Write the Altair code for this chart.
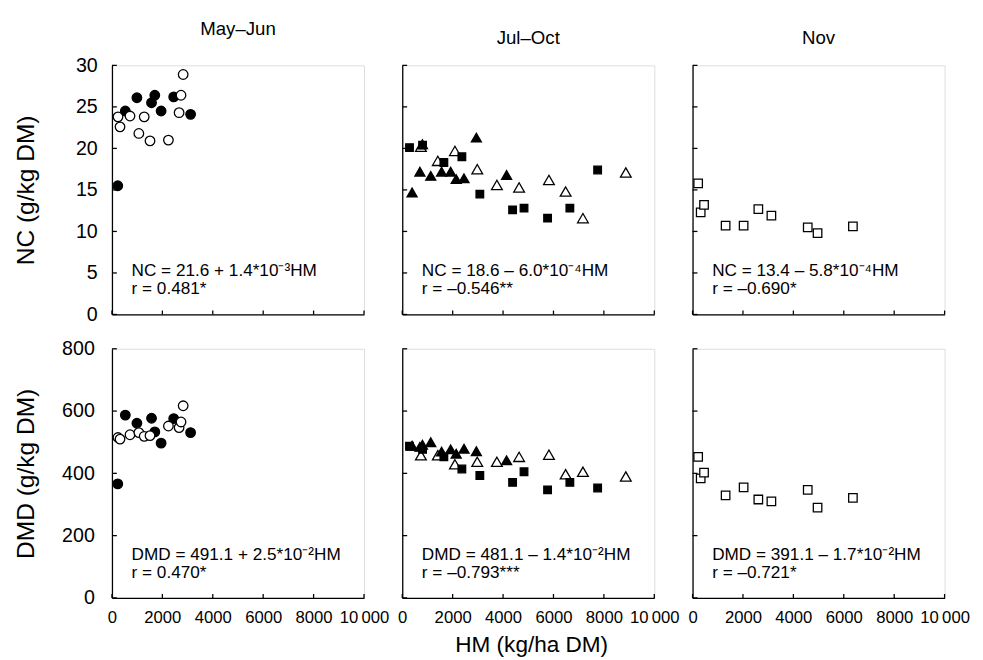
import altair as alt
import pandas as pd

FONT = "Liberation Sans"

# ---------------- data ----------------
# May–Jun : filled circles / open circles
mj_fill_hm = [230, 530, 990, 1570, 1700, 1950, 2450, 3120]
mj_fill_nc = [15.5, 24.5, 26.1, 25.5, 26.4, 24.5, 26.2, 24.1]
mj_fill_dmd = [366, 587, 561, 577, 533, 497, 576, 531]

mj_open_hm = [240, 320, 716, 1067, 1280, 1510, 2240, 2664, 2740, 2825]
mj_open_nc = [23.8, 22.6, 23.9, 21.8, 23.8, 20.9, 21.0, 24.3, 26.4, 28.9]
mj_open_dmd = [515, 510, 524, 531, 519, 521, 552, 547, 565, 617]

# Jul–Oct : filled squares / filled triangles / open triangles
jo_sq_hm = [287, 806, 1651, 2365, 3078, 4378, 4831, 5766, 6650, 7752]
jo_sq_nc = [20.1, 20.4, 18.3, 19.0, 14.5, 12.6, 12.8, 11.6, 12.8, 17.4]
jo_sq_dmd = [487, 477, 453, 414, 393, 371, 405, 347, 371, 353]

jo_tf_hm = [390, 700, 800, 1130, 1560, 1920, 2140, 2450, 2940, 4140]
jo_tf_nc = [14.7, 17.2, 20.5, 16.7, 17.2, 17.2, 16.3, 16.4, 21.3, 16.8]
jo_tf_dmd = [489, 485, 492, 500, 470, 477, 463, 479, 471, 442]

jo_to_hm = [740, 1410, 2090, 2976, 3755, 4636, 5820, 6482, 7168, 8870]
jo_to_nc = [20.2, 18.5, 19.7, 17.5, 15.6, 15.3, 16.2, 14.8, 11.6, 17.1]
jo_to_dmd = [458, 458, 429, 437, 437, 453, 460, 397, 405, 390]

# Nov : open squares
nov_hm = [222, 323, 456, 1312, 2026, 2610, 3128, 4570, 4960, 6362]
nov_nc = [15.8, 12.3, 13.2, 10.7, 10.7, 12.7, 11.9, 10.5, 9.8, 10.6]
nov_dmd = [453, 384, 402, 329, 355, 316, 310, 347, 290, 321]

periods = ["May–Jun", "Jul–Oct", "Nov"]
eq_nc = ["NC = 21.6 + 1.4*10⁻³HM", "NC = 18.6 – 6.0*10⁻⁴HM", "NC = 13.4 – 5.8*10⁻⁴HM"]
r_nc = ["r = 0.481*", "r = –0.546**", "r = –0.690*"]
eq_dmd = ["DMD = 491.1 + 2.5*10⁻²HM", "DMD = 481.1 – 1.4*10⁻²HM", "DMD = 391.1 – 1.7*10⁻²HM"]
r_dmd = ["r = 0.470*", "r = –0.793***", "r = –0.721*"]

x_ticks = [0, 2000, 4000, 6000, 8000, 10000]
nc_ticks = [0, 5, 10, 15, 20, 25, 30]
dmd_ticks = [0, 200, 400, 600, 800]

# ---------------- helpers ----------------
W, H = 257, 254


def series_df(hm, vals):
    return pd.DataFrame({"HM": hm, "v": vals})


def make_panel(row, col, series, eq, r):
    yticks = nc_ticks if row == 0 else dmd_ticks
    ydom = [0, 30] if row == 0 else [0, 800]
    ytitle = "NC (g/kg DM)" if row == 0 else "DMD (g/kg DM)"

    if col == 0:
        yaxis = alt.Axis(values=yticks, ticks=False, grid=False, domain=True,
                         domainColor="black", domainWidth=1.3,
                         labelFont=FONT, labelFontSize=20, labelColor="black",
                         labelPadding=15 if row == 0 else 18,
                         title=ytitle, titleFont=FONT, titleFontSize=25,
                         titleFontWeight="normal", titleColor="black",
                         titleAngle=270, titleBaseline="bottom", titleAlign="center",
                         titleX=-75, titleY=H / 2)
    else:
        yaxis = alt.Axis(values=yticks, ticks=False, grid=False, domain=True,
                         domainColor="black", domainWidth=1.3, labels=False, title=None)

    if row == 1:
        xaxis = alt.Axis(values=x_ticks, ticks=False, grid=False, domain=True,
                         domainColor="black", domainWidth=1.3,
                         labelFont=FONT, labelFontSize=17, labelColor="black",
                         labelPadding=12, labelFlush=False,
                         labelExpr="datum.value == 10000 ? '10\u2009000' : format(datum.value, 'd')",
                         title="HM (kg/ha DM)" if col == 1 else None,
                         titleFont=FONT, titleFontSize=23, titleFontWeight="normal",
                         titleColor="black", titlePadding=9, titleX=W / 2 + 3)
    else:
        xaxis = alt.Axis(values=x_ticks, ticks=False, grid=False, domain=True,
                         domainColor="black", domainWidth=1.3, labels=False, title=None)

    ex = alt.X("HM:Q", scale=alt.Scale(domain=[0, 10000], nice=False), axis=xaxis)
    ey = alt.Y("v:Q", scale=alt.Scale(domain=ydom, nice=False), axis=yaxis)

    layers = []
    for hm, vals, shape, filled, size in series:
        layers.append(
            alt.Chart(series_df(hm, vals)).mark_point(
                shape=shape, filled=True, size=size, opacity=1,
                fill="black" if filled else "white", stroke="black", strokeWidth=1.3,
            ).encode(x=ex, y=ey)
        )

    # inward ticks
    layers.append(
        alt.Chart(pd.DataFrame({"v": yticks})).mark_rule(color="black", strokeWidth=1.3)
        .encode(y=ey, x=alt.value(0), x2=alt.value(5))
    )
    layers.append(
        alt.Chart(pd.DataFrame({"HM": x_ticks})).mark_rule(color="black", strokeWidth=1.3)
        .encode(x=ex, y=alt.value(H), y2=alt.value(H - 4))
    )

    # annotation text
    layers.append(
        alt.Chart(pd.DataFrame({"t": [eq]})).mark_text(
            align="left", baseline="alphabetic", font=FONT, fontSize=17.5, color="black"
        ).encode(text="t:N", x=alt.value(20), y=alt.value(215))
    )
    layers.append(
        alt.Chart(pd.DataFrame({"t": [r]})).mark_text(
            align="left", baseline="alphabetic", font=FONT, fontSize=17.5, color="black"
        ).encode(text="t:N", x=alt.value(20), y=alt.value(233.5))
    )

    ch = alt.layer(*layers).properties(width=W, height=H)
    if row == 0:
        ch = ch.properties(title=alt.TitleParams(
            periods[col], font=FONT, fontSize=19, fontWeight="normal",
            color="black", anchor="middle", offset=17))
    return ch


panels = [
    make_panel(0, 0, [(mj_fill_hm, mj_fill_nc, "circle", True, 95),
                      (mj_open_hm, mj_open_nc, "circle", False, 95)], eq_nc[0], r_nc[0]),
    make_panel(0, 1, [(jo_to_hm, jo_to_nc, "triangle-up", False, 120),
                      (jo_sq_hm, jo_sq_nc, "square", True, 60),
                      (jo_tf_hm, jo_tf_nc, "triangle-up", True, 105)], eq_nc[1], r_nc[1]),
    make_panel(0, 2, [(nov_hm, nov_nc, "square", False, 75)], eq_nc[2], r_nc[2]),
    make_panel(1, 0, [(mj_fill_hm, mj_fill_dmd, "circle", True, 95),
                      (mj_open_hm, mj_open_dmd, "circle", False, 95)], eq_dmd[0], r_dmd[0]),
    make_panel(1, 1, [(jo_to_hm, jo_to_dmd, "triangle-up", False, 120),
                      (jo_sq_hm, jo_sq_dmd, "square", True, 60),
                      (jo_tf_hm, jo_tf_dmd, "triangle-up", True, 105)], eq_dmd[1], r_dmd[1]),
    make_panel(1, 2, [(nov_hm, nov_dmd, "square", False, 75)], eq_dmd[2], r_dmd[2]),
]

chart = alt.concat(*panels, columns=3, spacing={"row": 35, "column": 39}, bounds="flush")
chart = chart.configure_view(stroke=None).configure(background="white")

chart.save("out.html", embed_options={"renderer": "svg", "actions": False})
